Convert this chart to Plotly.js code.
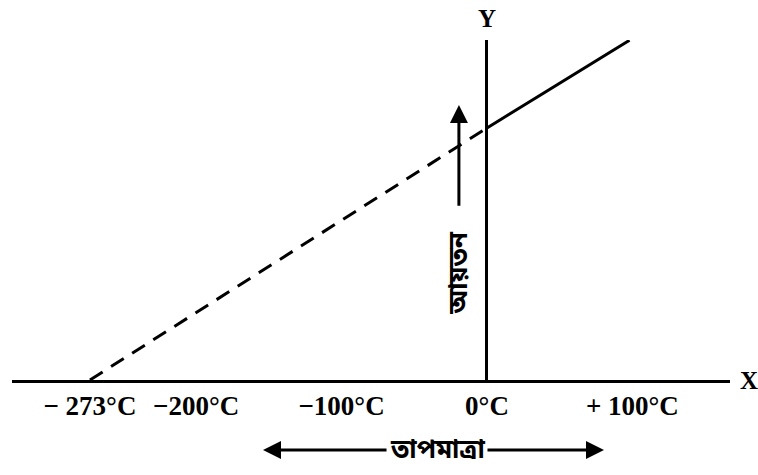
<!DOCTYPE html>
<html>
<head>
<meta charset="utf-8">
<script src="https://cdn.plot.ly/plotly-3.0.1.min.js"></script>
<style>html,body{margin:0;padding:0;background:#fff;}#chart{width:758px;height:475px;}</style>
</head>
<body>
<div id="chart"></div>
<script>
// Charles's law: volume vs temperature (°C)
const dashedTemp = [-273, 0];      // extrapolated part
const dashedVol  = [0, 273];
const solidTemp  = [0, 98];        // measured part
const solidVol   = [273, 368];
const tickVals   = [-273, -200, -100, 0, 100];
const tickText   = ['− 273°C', '−200°C', '−100°C', '0°C', '+ 100°C'];
const xLabel = 'X';
const yLabel = 'Y';
const volumeLabel = 'আয়তন';
const tempLabel = 'তাপমাত্রা';

const serif = 'Liberation Serif, Times New Roman, serif';
const beng = 'Noto Sans Bengali, Noto Sans, sans-serif';

const traces = [
  {x: dashedTemp, y: dashedVol, mode: 'lines', type: 'scatter',
   line: {color: '#000', width: 3, dash: '15px,10px'}, hoverinfo: 'skip'},
  {x: solidTemp, y: solidVol, mode: 'lines', type: 'scatter',
   line: {color: '#000', width: 3}, hoverinfo: 'skip'}
];

const layout = {
  width: 758, height: 475,
  margin: {l: 12, r: 28, t: 40, b: 95},
  paper_bgcolor: '#fff', plot_bgcolor: '#fff',
  showlegend: false,
  xaxis: {
    range: [-326.6, 167.1], showgrid: false,
    zeroline: true, zerolinecolor: '#000', zerolinewidth: 3,
    showline: true, linecolor: '#000', linewidth: 3,
    ticks: '', tickvals: tickVals, ticktext: tickText,
    tickfont: {family: serif, size: 27, color: '#000', weight: 'bold'},
    fixedrange: true
  },
  yaxis: {
    range: [0, 368.3], showgrid: false, zeroline: false,
    showticklabels: false, ticks: '', showline: false, fixedrange: true
  },
  annotations: [
    {x: 0, y: 1, xref: 'x', yref: 'paper', yanchor: 'bottom', yshift: 6,
     text: '<b>' + yLabel + '</b>', showarrow: false,
     font: {family: serif, size: 25, color: '#000'}},
    {x: 1, y: 0, xref: 'paper', yref: 'y', xanchor: 'left', xshift: 8,
     text: '<b>' + xLabel + '</b>', showarrow: false,
     font: {family: serif, size: 25, color: '#000'}},
    // vertical arrow (volume increases)
    {x: -19.3, y: 298, xref: 'x', yref: 'y', axref: 'x', ayref: 'y',
     ax: -19.3, ay: 187, text: '', showarrow: true,
     arrowhead: 2, arrowsize: 1.2, arrowwidth: 3, arrowcolor: '#000'},
    {x: -19.3, y: 116, xref: 'x', yref: 'y', xshift: 2, text: '<b>' + volumeLabel + '</b>',
     textangle: -90, showarrow: false,
     font: {family: beng, size: 26, color: '#000'}},
    // temperature label with double arrow
    {x: 0.592, y: -0.222, xref: 'paper', yref: 'paper', yshift: -16,
     text: '<b>' + tempLabel + '</b>',
     showarrow: false, font: {family: beng, size: 26, color: '#000'}},
    {x: 0.3496, y: -0.206, xref: 'paper', yref: 'paper', ax: 125, ay: 0,
     text: '', showarrow: true, arrowhead: 2, arrowsize: 1.2, arrowwidth: 3, arrowcolor: '#000'},
    {x: 0.8245, y: -0.206, xref: 'paper', yref: 'paper', ax: -118, ay: 0,
     text: '', showarrow: true, arrowhead: 2, arrowsize: 1.2, arrowwidth: 3, arrowcolor: '#000'}
  ]
};

Plotly.newPlot('chart', traces, layout, {staticPlot: true, displayModeBar: false});
</script>
</body>
</html>
